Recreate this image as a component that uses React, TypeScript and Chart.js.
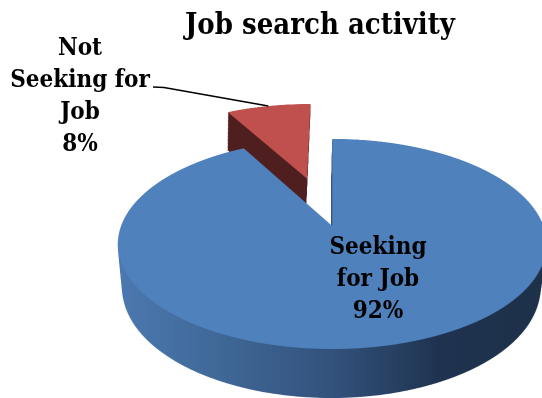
import { useEffect, useRef } from "react";
import { Chart, registerables } from "chart.js";

Chart.register(...registerables);

// Chart content
const chartTitle = "Job search activity";
const categories = ["Seeking for Job", "Not Seeking for Job"];
const shares = [92, 8];
const sliceColors = ["#4F81BD", "#C0504D"];
const explode = [0, 0.52];
const wallDrift = [1, 2.5];
const labelLines = [
  ["Seeking", "for Job", "92%"],
  ["Not", "Seeking for", "Job", "8%"],
];

// Perspective camera that maps the flat pie (unit radius) onto the page
const VIEW = { cx: 332, y0: 226, A: 211, B: 102, k: 0.171, depth: 44.9, m: 0.025 };
const WIDTH = 542;
const HEIGHT = 398;
const SS = 2; // supersampling of the projected layer
const TEX = 400; // texture pixels per pie radius
const U_MIN = -1.15;
const U_MAX = 1.15;
const V_MIN = -1.75;
const V_MAX = 1.15;
const LEVELS = 48;

const FONT = '"DejaVu Serif Condensed", "DejaVu Serif"';
const TITLE_FONT = `bold 29px ${FONT}`;
const LABEL_FONT = `bold 24px ${FONT}`;
const LINE_HEIGHT = 32;
const LABEL_POS = [
  { x: 378, y: 248 },
  { x: 80, y: 49 },
];

function makeCanvas(w: number, h: number) {
  const c = document.createElement("canvas");
  c.width = w;
  c.height = h;
  return c;
}

// Draws a flat texture through the camera, row by row, at height z (0 = top face, 1 = base).
function projectRows(target: CanvasRenderingContext2D, tex: HTMLCanvasElement, z: number, drift: number) {
  const { cx, y0, A, B, k, depth, m } = VIEW;
  const vAt = (Y: number) => (Y * (1 + m * z) - depth * z) / (B + k * Y);
  const step = 1 / SS;
  for (let row = 0; row < HEIGHT * SS; row++) {
    const Y = row * step - y0;
    const v0 = vAt(Y);
    const v1 = vAt(Y + step);
    if (v1 < V_MIN || v0 > V_MAX) continue;
    const w = 1 - k * (v0 + v1) / 2 + m * z;
    const dx = (cx - drift * z + (A * U_MIN) / w) * SS;
    const dw = ((A * (U_MAX - U_MIN)) / w) * SS;
    const sy = (v0 - V_MIN) * TEX;
    const sh = Math.max((v1 - v0) * TEX, 0.5);
    target.drawImage(tex, 0, sy, tex.width, sh, dx, row, dw, 1);
  }
}

function projectPoint(u: number, v: number) {
  const { cx, y0, A, B, k } = VIEW;
  const w = 1 - k * v;
  return { x: cx + (A * u) / w, y: y0 + (B * v) / w };
}

const pie3d = {
  id: "pie3d",
  beforeDatasetsDraw(chart: any) {
    const ctx: CanvasRenderingContext2D = chart.ctx;
    const arcs = chart.getDatasetMeta(0).data;
    const out = makeCanvas(WIDTH * SS, HEIGHT * SS);
    const octx = out.getContext("2d")!;
    octx.imageSmoothingEnabled = true;

    // Far slice first so the main slice covers it
    for (const i of [1, 0]) {
      const arc = arcs[i];
      const radius = arc.outerRadius;
      const tex = makeCanvas((U_MAX - U_MIN) * TEX, (V_MAX - V_MIN) * TEX);
      const t = tex.getContext("2d")!;
      const scale = TEX / radius;
      const mid = (arc.startAngle + arc.endAngle) / 2;
      t.setTransform(
        scale, 0, 0, scale,
        (-U_MIN + Math.cos(mid) * explode[i]) * TEX - arc.x * scale,
        (-V_MIN + Math.sin(mid) * explode[i]) * TEX - arc.y * scale,
      );
      arc.draw(t);

      // Side wall: the slice stacked from base to top, then tinted across its width
      const wall = makeCanvas(WIDTH * SS, HEIGHT * SS);
      const w = wall.getContext("2d")!;
      for (let l = LEVELS; l > 0; l--) projectRows(w, tex, l / LEVELS, wallDrift[i]);
      w.globalCompositeOperation = "source-atop";
      if (i === 0) {
        const g = w.createLinearGradient(118 * SS, 0, 546 * SS, 0);
        g.addColorStop(0, "#4C79B0");
        g.addColorStop(0.25, "#3F6796");
        g.addColorStop(0.5, "#33527C");
        g.addColorStop(0.75, "#1F3350");
        g.addColorStop(1, "#1E3149");
        w.fillStyle = g;
      } else {
        w.fillStyle = "#4E1F1E";
      }
      w.fillRect(0, 0, wall.width, wall.height);
      octx.drawImage(wall, 0, 0);
      projectRows(octx, tex, 0, 0);
    }

    ctx.save();
    ctx.imageSmoothingEnabled = true;
    ctx.imageSmoothingQuality = "high";
    ctx.drawImage(out, 0, 0, WIDTH, HEIGHT);
    ctx.restore();
    return false;
  },
  afterDraw(chart: any) {
    const ctx: CanvasRenderingContext2D = chart.ctx;
    const arcs = chart.getDatasetMeta(0).data;
    ctx.save();
    ctx.fillStyle = "#000";
    ctx.textAlign = "center";
    ctx.textBaseline = "middle";
    ctx.font = TITLE_FONT;
    ctx.fillText(chartTitle, 320, 26);
    ctx.font = LABEL_FONT;
    labelLines.forEach((lines, i) => {
      lines.forEach((line, n) => ctx.fillText(line, LABEL_POS[i].x, LABEL_POS[i].y + n * LINE_HEIGHT));
    });

    // Leader from the small slice's rim to its label
    const red = arcs[1];
    const mid = (red.startAngle + red.endAngle) / 2;
    const reach = 1 + explode[1];
    const tip = projectPoint(Math.cos(mid) * reach, Math.sin(mid) * reach);
    ctx.strokeStyle = "#000";
    ctx.lineWidth = 1.5;
    ctx.beginPath();
    ctx.moveTo(153, 87);
    ctx.lineTo(164, 87.5);
    ctx.lineTo(tip.x, tip.y);
    ctx.stroke();
    ctx.restore();
  },
};

export default function App() {
  const ref = useRef<HTMLCanvasElement>(null);
  useEffect(() => {
    const chart = new Chart(ref.current!, {
      type: "pie",
      data: {
        labels: categories,
        datasets: [{ data: shares, backgroundColor: sliceColors, borderWidth: 0 }],
      },
      options: {
        responsive: false,
        animation: false,
        devicePixelRatio: 1,
        layout: { padding: 0 },
        plugins: { legend: { display: false }, tooltip: { enabled: false }, title: { display: false } },
      },
      plugins: [pie3d],
    } as any);
    return () => chart.destroy();
  }, []);
  return (
    <div style={{ position: "absolute", left: 0, top: 0, width: WIDTH, height: HEIGHT, background: "#fff" }}>
      <canvas ref={ref} width={WIDTH} height={HEIGHT} style={{ display: "block" }} />
    </div>
  );
}
